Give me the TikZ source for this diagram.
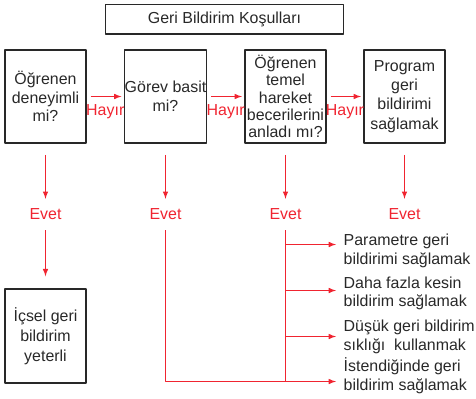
\documentclass[tikz,border=0pt]{standalone}
\usepackage{fontspec}
\setmainfont{Liberation Sans}
\definecolor{kirmizi}{RGB}{240,36,48}
\definecolor{koyu}{RGB}{40,40,40}
\begin{document}
\begin{tikzpicture}[>=latex,line join=bevel,x=1bp,y=-1bp,
  kutu/.style={draw=koyu,line width=1.5bp,text=koyu,inner sep=0pt,
    minimum width=80.6bp,minimum height=93bp,align=center,
    font=\fontsize{16}{19}\selectfont},
  hayir/.style={->,draw=kirmizi,line width=1.5bp,shorten <=4bp,shorten >=2.5bp},
  evet/.style={draw=kirmizi,line width=1.5bp},
  etiket/.style={text=kirmizi,font=\fontsize{16}{19}\selectfont},
  secenek/.style={anchor=west,text=koyu,inner sep=0pt,align=left,
    font=\fontsize{16}{18.7}\selectfont}]
  \useasboundingbox (0,0) rectangle (476,398);
%%
  % Node: baslik
  \node [kutu,minimum width=237.6bp,minimum height=29.7bp] (baslik) at (224.5,19.2) {Geri Bildirim Koşulları};
  % Node: deneyim
  \node [kutu,font=\fontsize{16}{18.5}\selectfont] (deneyim) at (45.5,96.5) {Öğrenen\\deneyimli\\mi?};
  % Node: gorev
  \node [kutu] (gorev) at (165.5,96.5) {Görev basit\\mi?};
  % Node: temel
  \node [kutu,font=\fontsize{16}{17.4}\selectfont] (temel) at (285.5,96.5) {Öğrenen\\temel\\hareket\\becerilerini\\anladı mı?};
  % Node: program
  \node [kutu,font=\fontsize{16}{19.3}\selectfont] (program) at (404.5,96.5) {Program\\geri\\bildirimi\\sağlamak};
  % Node: icsel
  \node [kutu,minimum height=94bp,font=\fontsize{16}{20}\selectfont] (icsel) at (45.5,336) {İçsel geri\\bildirim\\yeterli};
%
  % Node: evet labels
  \node [etiket,inner sep=0pt,minimum height=31bp] (e1) at (45.5,214.5) {Evet};
  \node [etiket,inner sep=0pt,minimum height=31bp] (e2) at (165.5,214.5) {Evet};
  \node [etiket,inner sep=0pt,minimum height=31bp] (e3) at (285.5,214.5) {Evet};
  \node [etiket,inner sep=0pt,minimum height=31bp] (e4) at (404.5,214.5) {Evet};
%
  % Node: options
  \coordinate (a1) at (336,244.5);
  \coordinate (a2) at (336,290.5);
  \coordinate (a3) at (336,336.5);
  \coordinate (a4) at (336,381.5);
  \node [secenek] (t1) at (343.5,251) {Parametre geri\\bildirimi sağlamak};
  \node [secenek] (t2) at (343.5,293.3) {Daha fazla kesin\\bildirim sağlamak};
  \node [secenek] (t3) at (343.5,336.7) {Düşük geri bildirim\\sıklığı~ kullanmak};
  \node [secenek] (t4) at (343.5,375.5) {İstendiğinde geri\\bildirim sağlamak};
%
  % Edge: deneyim -> gorev
  \draw [hayir] (deneyim) -- node [etiket,below,yshift=-3.5bp] {Hayır} (gorev);
  % Edge: gorev -> temel
  \draw [hayir] (gorev) -- node [etiket,below,yshift=-3.5bp] {Hayır} (temel);
  % Edge: temel -> program
  \draw [hayir] (temel) -- node [etiket,below,yshift=-3.5bp] {Hayır} (program);
  % Edge: boxes -> evet
  \foreach \k/\e in {deneyim/e1,gorev/e2,temel/e3,program/e4}
    \draw [evet,->,shorten <=11bp] (\k) -- (\e);
  % Edge: e1 -> icsel
  \draw [evet,->,shorten >=12bp] (e1) -- (icsel);
  % Edge: e2 -> a4
  \draw [evet,->] (e2.south) |- (a4);
  % Edge: e3 -> options
  \draw [evet] (e3.south) -- (e3.south |- a4);
  \foreach \i in {1,2,3}
    \draw [evet,->] (e3.south |- a\i) -- (a\i);
%
\end{tikzpicture}
\end{document}
